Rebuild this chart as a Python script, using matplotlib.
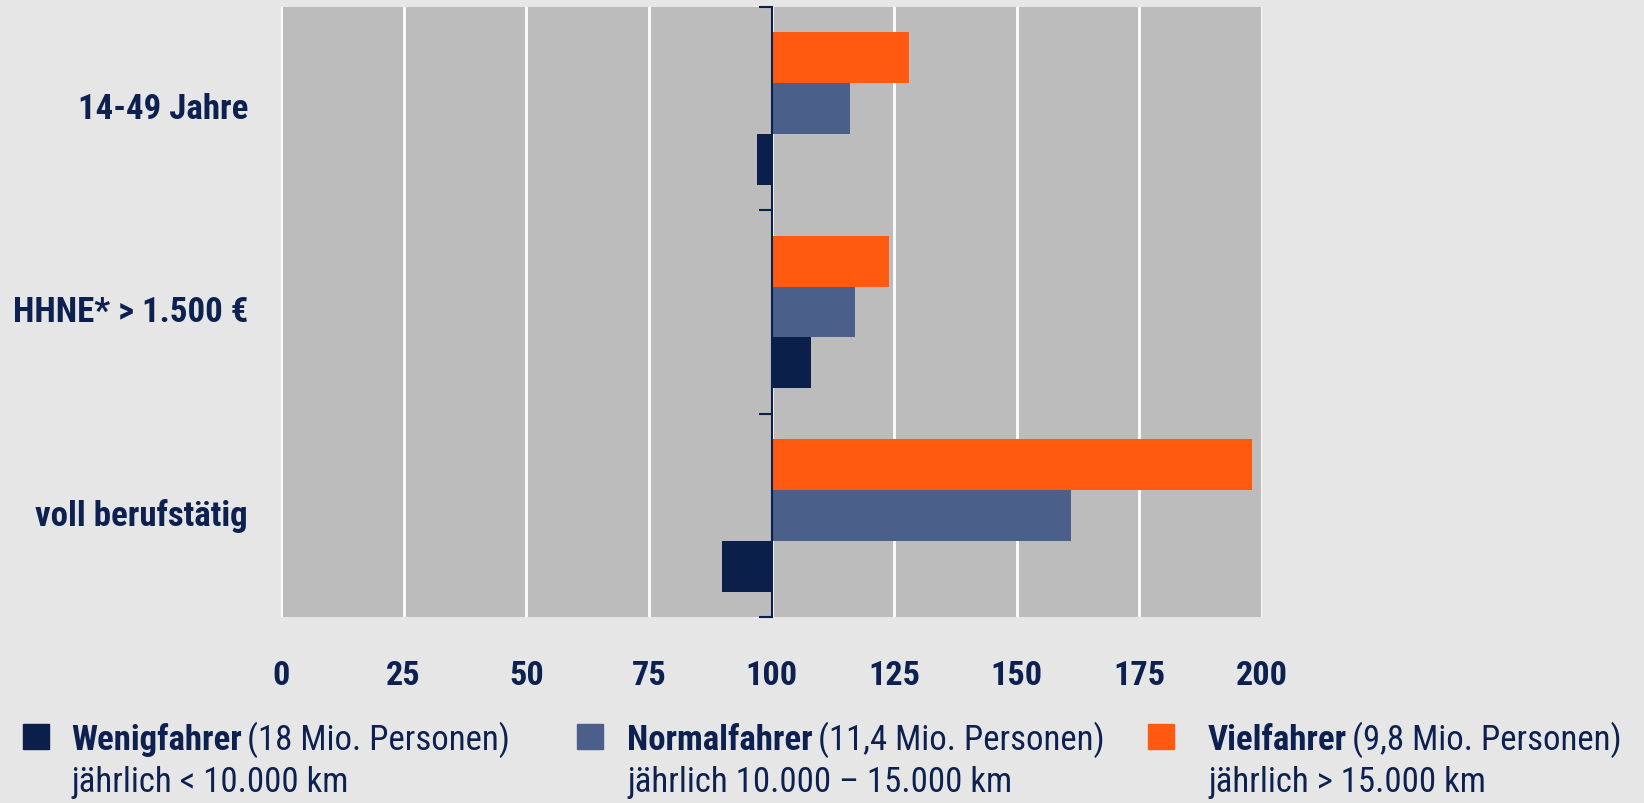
import matplotlib
matplotlib.use("Agg")
import matplotlib.pyplot as plt
from matplotlib.patches import Rectangle
from matplotlib.transforms import blended_transform_factory
import matplotlib.font_manager as fm

# pick a condensed sans font if one is installed, otherwise Liberation Sans
FONT = 'Liberation Sans'
pref = ['Liberation Sans Narrow', 'Roboto Condensed', 'Open Sans Condensed',
        'Noto Sans Condensed', 'DejaVu Sans Condensed']
names = {f.name for f in fm.fontManager.ttflist}
for p in pref:
    if p in names:
        FONT = p
        break
plt.rcParams['font.family'] = [FONT, 'DejaVu Sans']

categories = ["14-49 Jahre", "HHNE* > 1.500 €", "voll berufstätig"]
wenigfahrer = [97, 108, 90]
normalfahrer = [116, 117, 161]
vielfahrer = [128, 124, 198]
x_ticks = [0, 25, 50, 75, 100, 125, 150, 175, 200]
base = 100

series_names = ["Wenigfahrer", "Normalfahrer", "Vielfahrer"]
series_sub = ["(18 Mio. Personen)", "(11,4 Mio. Personen)", "(9,8 Mio. Personen)"]
series_line2 = ["jährlich < 10.000 km", "jährlich 10.000 – 15.000 km", "jährlich > 15.000 km"]

BG = "#e6e6e6"
PLOT = "#bcbcbc"
NAVY = "#0a1f4a"
BLUE = "#4a5f8a"
ORANGE = "#ff5a10"
TXT = "#0d2150"
colors = [NAVY, BLUE, ORANGE]

W, H = 1644, 804
fig = plt.figure(figsize=(W/100, H/100), dpi=100, facecolor=BG)
ax = fig.add_axes([281/W, 1-618/H, 981/W, 610/H])
ax.set_facecolor(PLOT)
fig.canvas.draw()
renderer = fig.canvas.get_renderer()


def ratios_for(texts, targets, base_size, weight='normal'):
    out = []
    for t, w in zip(texts, targets):
        tmp = fig.text(0, 0, t, fontsize=base_size, fontweight=weight)
        bw = tmp.get_window_extent(renderer).width
        tmp.remove()
        out.append(w / bw)
    return out


cat_fs = 27 * min(1.0, min(ratios_for(categories, [173, 235, 224], 27, 'bold')))
tick_fs = 27 * min(1.0, min(ratios_for(["100", "200"], [52, 52], 27, 'bold')))
r_leg = (ratios_for(series_line2, [273, 376, 273], 25)
         + ratios_for(series_names, [184, 188, 139], 25, 'bold'))
leg_fs = 25 * min(1.0, sum(r_leg) / len(r_leg))

h = 0.25
offsets = [0.25, 0.0, -0.25]
for vals, off, c in zip([wenigfahrer, normalfahrer, vielfahrer], offsets, colors):
    ys = [i + off for i in range(len(categories))]
    ax.barh(ys, [v - base for v in vals], left=base, height=h, color=c, zorder=3)

ax.set_xlim(0, 200)
ax.set_ylim(2.5, -0.5)
ax.set_xticks(x_ticks)
ax.set_xticklabels([str(t) for t in x_ticks], fontsize=tick_fs, color=TXT,
                   fontweight='bold')
ax.tick_params(axis='x', length=0, pad=30)
ax.set_yticks([-0.5, 0.5, 1.5, 2.5])
ax.set_yticklabels([])
ax.tick_params(axis='y', length=9.5, width=1.5, color=NAVY, direction='out')
for s in ['top', 'right', 'bottom']:
    ax.spines[s].set_visible(False)
ax.spines['left'].set_position(('data', base))
ax.spines['left'].set_color(NAVY)
ax.spines['left'].set_linewidth(1.5)
ax.spines['left'].set_zorder(4)
ax.grid(axis='x', color='white', linewidth=2, zorder=1)
ax.set_axisbelow(True)

tr = blended_transform_factory(ax.transAxes, ax.transData)
for i, cat in enumerate(categories):
    ax.text(-0.0336, i, cat, transform=tr, ha='right', va='center',
            fontsize=cat_fs, fontweight='bold', color=TXT)

# legend
leg_sq_x = [23, 577, 1148]
leg_txt_x = [71, 627, 1208]
for k in range(3):
    fig.add_artist(Rectangle((leg_sq_x[k]/W, 1-750/H), 26/W, 25/H,
                             transform=fig.transFigure, color=colors[k]))
    t1 = fig.text(leg_txt_x[k]/W, 1-750/H, series_names[k], fontsize=leg_fs,
                  fontweight='bold', color=TXT, ha='left', va='baseline')
    bb = t1.get_window_extent(renderer)
    fig.text((bb.x1 + 5)/W, 1-750/H, series_sub[k], fontsize=leg_fs,
             color=TXT, ha='left', va='baseline')
    fig.text(leg_txt_x[k]/W, 1-792/H, series_line2[k], fontsize=leg_fs,
             color=TXT, ha='left', va='baseline')

fig.savefig("out.png", dpi=100, facecolor=BG)
